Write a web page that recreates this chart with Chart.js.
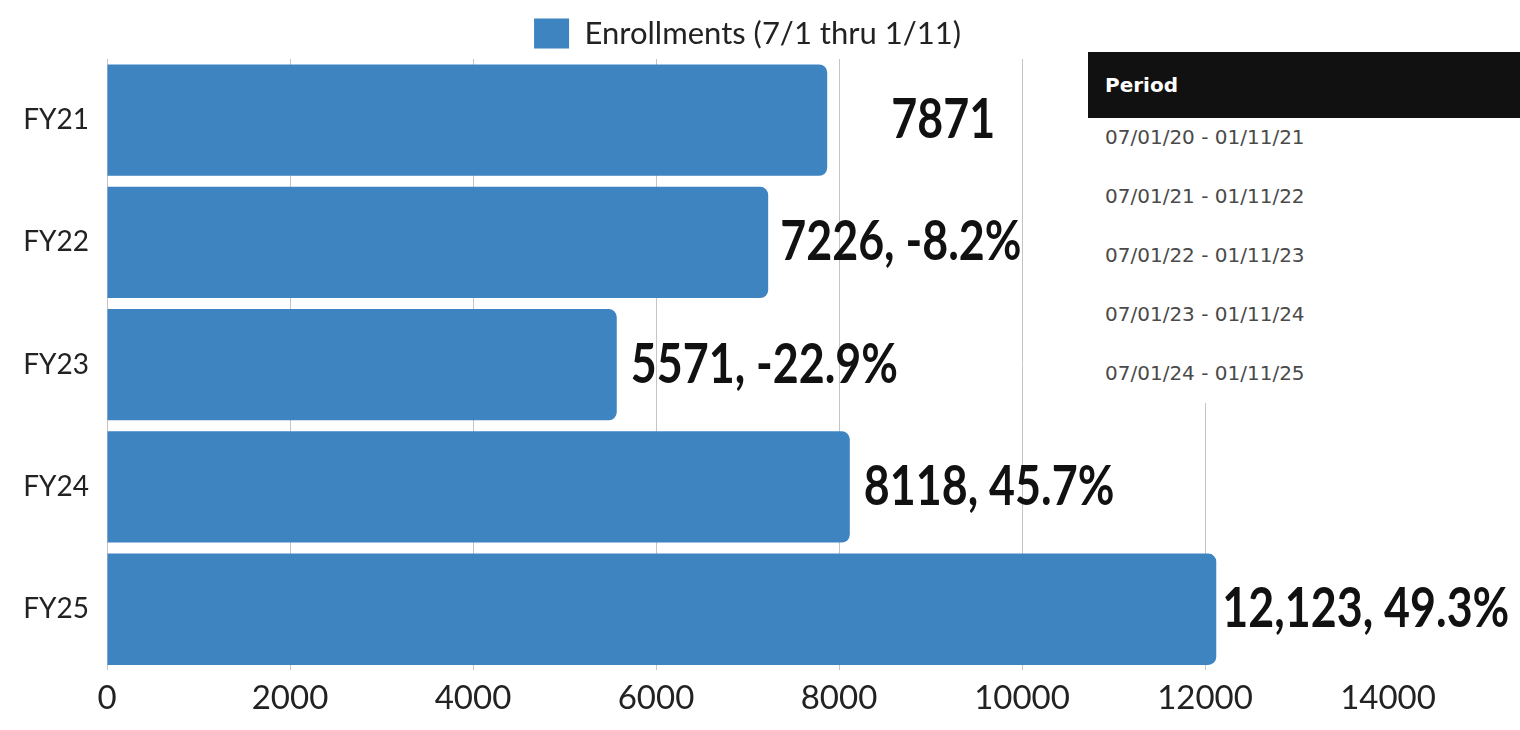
<!DOCTYPE html>
<html>
<head>
  <title>Enrollments FY21 - FY25</title>
  <meta charset="UTF-8">
  <script src="https://cdn.jsdelivr.net/npm/chart.js"></script>
  <style>
    body { margin: 0; background: #fff; }
    #wrap { position: relative; width: 1520px; height: 730px; overflow: hidden; }
    #enrollChart { position: absolute; left: 0; top: 0; }
    /* period lookup table on the right */
    #periods { position: absolute; left: 1088px; top: 52px; width: 432px; background: #fff;
               font-family: "DejaVu Sans", Verdana, sans-serif; }
    #periods .head { position: relative; background: #111; color: #fff; font-weight: bold;
                     font-size: 20px; height: 66px; line-height: 66px; padding-left: 17px; }
    #periods .rows { margin-top: -10px; }
    #periods .row { height: 59px; line-height: 59px; padding-left: 17px; font-size: 20px; color: #4a4a4a; }
  </style>
</head>
<body>
  <div id="wrap">
    <canvas id="enrollChart" width="1520" height="730"></canvas>
    <div id="periods">
      <div class="head">Period</div>
      <div class="rows" id="periodRows"></div>
    </div>
  </div>

  <script>
    const fiscalYears = ['FY21', 'FY22', 'FY23', 'FY24', 'FY25'];
    const enrollments = [7871, 7226, 5571, 8118, 12123];
    const valueLabels = ['7871', '7226, -8.2%', '5571, -22.9%', '8118, 45.7%', '12,123, 49.3%'];
    const periods = [
      '07/01/20 - 01/11/21',
      '07/01/21 - 01/11/22',
      '07/01/22 - 01/11/23',
      '07/01/23 - 01/11/24',
      '07/01/24 - 01/11/25'
    ];

    // fill the period table
    document.getElementById('periodRows').innerHTML =
      periods.map(p => `<div class="row">${p}</div>`).join('');

    // big bold labels to the right of each bar
    const valueLabelPlugin = {
      id: 'valueLabels',
      afterDatasetsDraw(chart, args, opts) {
        const ctx = chart.ctx;
        const meta = chart.getDatasetMeta(0);
        ctx.save();
        ctx.font = `bold ${opts.size}px ${opts.family}`;
        ctx.fillStyle = opts.color;
        ctx.textBaseline = 'middle';
        ctx.textAlign = 'left';
        meta.data.forEach((bar, i) => {
          ctx.save();
          ctx.translate(bar.x + opts.gaps[i], bar.y);
          ctx.scale(opts.squeeze, 1);
          ctx.fillText(valueLabels[i], 0, 0);
          ctx.restore();
        });
        ctx.restore();
      }
    };

    const ctx = document.getElementById('enrollChart').getContext('2d');
    new Chart(ctx, {
      type: 'bar',
      data: {
        labels: fiscalYears,
        datasets: [{
          label: 'Enrollments (7/1 thru 1/11)',
          data: enrollments,
          backgroundColor: '#3d84c1',
          borderRadius: 8,
          borderSkipped: 'start',
          barPercentage: 0.91,
          categoryPercentage: 1.0
        }]
      },
      options: {
        indexAxis: 'y',
        responsive: false,
        animation: false,
        layout: { padding: { top: 8, right: 132, bottom: 4, left: 0 } },
        plugins: {
          legend: {
            position: 'top',
            fullSize: false,
            labels: {
              boxWidth: 35,
              boxHeight: 30,
              padding: 10,
              color: '#222',
              font: { family: 'Lato, sans-serif', size: 31 }
            }
          },
          tooltip: { enabled: false },
          valueLabels: {
            size: 56,
            family: 'Lato, sans-serif',
            color: '#111',
            squeeze: 0.8,
            gaps: [64, 12, 14, 14, 6]
          }
        },
        scales: {
          x: {
            min: 0,
            max: 14000,
            ticks: {
              stepSize: 2000,
              padding: 8,
              color: '#222',
              font: { family: 'Lato, sans-serif', size: 33 },
              callback: v => String(v)
            },
            grid: {
              // no line at the far end of the axis
              color: c => (c.tick && c.tick.value === 14000 ? 'rgba(0,0,0,0)' : '#c4c4c4'),
              lineWidth: 1,
              drawTicks: false
            },
            border: { display: false }
          },
          y: {
            afterFit(scale) { scale.width = 107; },
            ticks: {
              padding: 18,
              color: '#222',
              font: { family: 'Lato, sans-serif', size: 28 }
            },
            grid: { display: false, drawTicks: false },
            border: { display: false }
          }
        }
      },
      plugins: [valueLabelPlugin]
    });
  </script>
</body>
</html>
